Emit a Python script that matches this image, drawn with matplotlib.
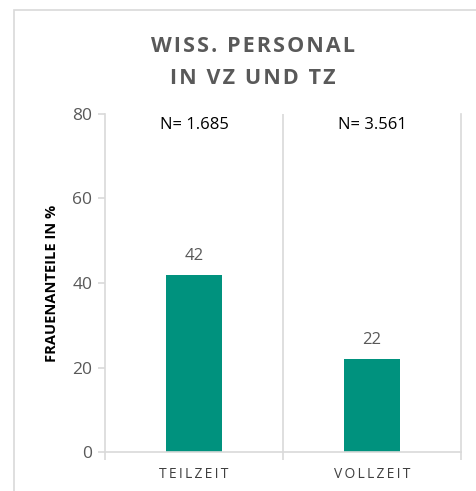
import matplotlib
matplotlib.use("Agg")
import matplotlib.pyplot as plt
from matplotlib.patches import Rectangle

# Daten
kategorien = ["TEILZEIT", "VOLLZEIT"]
frauenanteil = [42, 22]
n_labels = ["N= 1.685", "N= 3.561"]
y_ticks = [0, 20, 40, 60, 80]

teal = "#00927E"
grau = "#595959"
linie = "#D9D9D9"


def sperren(text, sp="\u200a"):
    # Sperrsatz mit schmalen Leerzeichen
    return sp.join(text)


plt.rcParams["font.family"] = ["Open Sans", "DejaVu Sans"]

fig = plt.figure(figsize=(4.77, 4.91), dpi=100)
fig.patches.append(Rectangle((14 / 477, -0.1), 1.0, 1 - 10 / 491 + 0.1,
                             transform=fig.transFigure, fill=False,
                             edgecolor=linie, linewidth=1.2))

ax = fig.add_axes([105 / 477, 1 - 452 / 491, (461 - 105) / 477, (452 - 114) / 491])
x = list(range(len(kategorien)))
ax.bar(x, frauenanteil, width=0.31, color=teal)

ax.set_xlim(-0.5, 1.5)
ax.set_ylim(0, 80)
ax.set_yticks(y_ticks)
ax.set_xticks(x)
ax.set_xticklabels([sperren(k, "\u2009") for k in kategorien], fontsize=10, color="#404040")
ax.set_xticks([-0.5, 0.5, 1.5], minor=True)
ax.tick_params(axis="x", which="major", length=0, pad=11)
ax.tick_params(axis="x", which="minor", length=6, color=linie, width=1.2)
ax.tick_params(axis="y", length=5, color=linie, width=1.2, labelsize=12.5,
               labelcolor=grau, pad=4)

ax.spines["top"].set_visible(False)
for s in ["left", "bottom", "right"]:
    ax.spines[s].set_color(linie)
    ax.spines[s].set_linewidth(1.2)
ax.axvline(0.5, color=linie, linewidth=1.2)

for xi, v in zip(x, frauenanteil):
    ax.text(xi, v + 2.5, str(v), ha="center", va="bottom", fontsize=12, color=grau)
for xi, t in zip(x, n_labels):
    ax.text(xi, 77.3, t, ha="center", va="center", fontsize=12, color="black")

ax.set_ylabel("FRAUENANTEILE IN %", fontsize=10.5, fontweight="bold", labelpad=10)

fig.text(0.53, 1 - 47 / 491, sperren("WISS. PERSONAL"), ha="center", va="center",
         fontsize=15.5, fontweight="bold", color=grau)
fig.text(0.53, 1 - 78 / 491, sperren("IN VZ UND TZ"), ha="center", va="center",
         fontsize=15.5, fontweight="bold", color=grau)

fig.savefig("out.png", dpi=100)
